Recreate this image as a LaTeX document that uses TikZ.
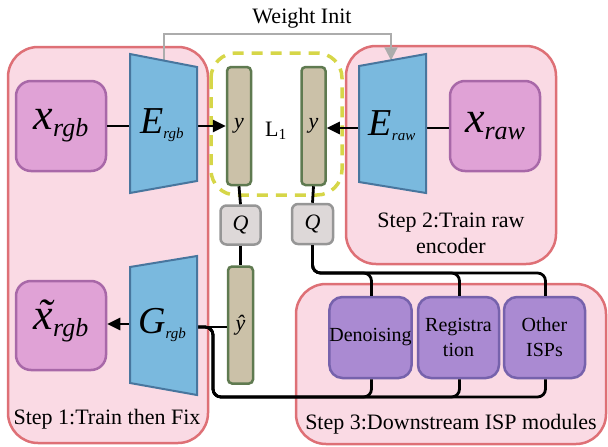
\documentclass[tikz,border=0pt]{standalone}
\usepackage{fontspec}
\setmainfont{Liberation Serif}
\usetikzlibrary{arrows.meta}
\definecolor{stepfill}{RGB}{250,218,228}
\definecolor{stepdraw}{RGB}{222,112,118}
\definecolor{magfill}{RGB}{224,162,214}
\definecolor{magdraw}{RGB}{168,104,168}
\definecolor{bluefill}{RGB}{122,185,222}
\definecolor{bluedraw}{RGB}{72,118,158}
\definecolor{barfill}{RGB}{203,193,168}
\definecolor{bardraw}{RGB}{95,122,80}
\definecolor{qfill}{RGB}{221,216,216}
\definecolor{qdraw}{RGB}{150,150,150}
\definecolor{purfill}{RGB}{170,138,210}
\definecolor{purdraw}{RGB}{118,98,172}
\definecolor{dashy}{RGB}{214,214,72}
\definecolor{grayline}{RGB}{172,172,172}
\newcommand\bigx[1]{{\fontsize{44}{44}\selectfont\itshape x}{\fontsize{26}{26}\selectfont\itshape\raisebox{-7pt}{#1}}}
\newcommand\bigxt[1]{{\fontsize{44}{44}\selectfont\itshape\ooalign{x\cr\hidewidth\kern3pt\char"02DC\hidewidth\cr}}{\fontsize{26}{26}\selectfont\itshape\raisebox{-7pt}{#1}}}
\newcommand\bigE[2]{{\fontsize{38}{38}\selectfont\itshape #1}{\fontsize{15}{15}\selectfont\itshape\raisebox{-5pt}{#2}}}
\begin{document}
\begin{tikzpicture}[x=1pt,y=-1pt,
  stepbox/.style={draw=stepdraw,fill=stepfill,line width=2.5pt,rounded corners=30pt,inner sep=0pt},
  imgbox/.style={draw=magdraw,fill=magfill,line width=2.5pt,rounded corners=15pt,minimum width=90pt,minimum height=90pt,inner sep=0pt},
  trap/.style={draw=bluedraw,fill=bluefill,line width=2pt,line join=miter},
  bar/.style={draw=bardraw,fill=barfill,line width=2.5pt,rounded corners=4pt,minimum width=24pt,minimum height=118pt,inner sep=0pt},
  qbox/.style={draw=qdraw,fill=qfill,line width=2.5pt,rounded corners=6pt,minimum width=40pt,minimum height=39pt,inner sep=0pt,font=\fontsize{22}{22}\selectfont\itshape},
  ispbox/.style={draw=purdraw,fill=purfill,line width=2.5pt,rounded corners=13pt,minimum width=81pt,minimum height=81pt,inner sep=0pt,align=center,font=\fontsize{20}{25}\selectfont},
  conn/.style={line width=2.8pt,black},
  tip/.style={-{Triangle[length=13pt,width=12pt]}},
  lbl/.style={font=\fontsize{22}{26}\selectfont,align=center,inner sep=0pt}
]
\useasboundingbox (0,0) rectangle (608,447);
% step containers
\node[stepbox,minimum width=200pt,minimum height=396pt] (s1) at (108,245) {};
\node[stepbox,minimum width=210pt,minimum height=218pt] (s2) at (451,155) {};
\node[stepbox,minimum width=310pt,minimum height=160pt] (s3) at (451,364) {};
\node[lbl] (s1l) at (107,419) {Step 1:Train then Fix};
\node[lbl] (s2l) at (451,233) {Step 2:Train raw\\encoder};
\node[lbl] (s3l) at (451,424) {Step 3:Downstream ISP modules};
% weight init
\node[lbl] (wi) at (302,18) {Weight Init};
\coordinate (Ergbtop) at (164,60.6);
\coordinate (Erawtop) at (391,60.3);
\draw[grayline,line width=2pt,-{Triangle[length=13pt,width=13pt]}] (Ergbtop) -- (164,34) -| (Erawtop);
% dashed L1 region
\draw[dashy,line width=3.5pt,dash pattern=on 11pt off 8pt,rounded corners=25pt] (211,53) rectangle (342,195);
% image boxes
\node[imgbox] (xrgb) at (61,126) {\bigx{rgb}};
\node[imgbox] (xraw) at (495,126) {\bigx{raw}};
\node[imgbox,minimum height=89pt] (xt) at (61,325.5) {\bigxt{rgb}};
% bars
\node[bar] (y1) at (239,126) {\fontsize{22}{22}\selectfont\itshape y};
\node[bar] (y2) at (313.5,126) {\fontsize{22}{22}\selectfont\itshape y};
\node[bar,minimum width=25pt,minimum height=117pt] (yh) at (240.5,325) {\fontsize{22}{22}\selectfont\itshape \^{y}};
\node[lbl] (l1) at (276,131) {L\textsubscript{1}};
% Q boxes
\node[qbox] (q1) at (240.5,225) {Q};
\node[qbox,minimum width=41pt,minimum height=40pt] (q2) at (312.5,224) {Q};
% ISP boxes
\node[ispbox] (den) at (370.5,337.5) {Denoising};
\node[ispbox] (reg) at (458.5,337.5) {Registra\\tion};
\node[ispbox] (oth) at (544.5,337.5) {Other\\ISPs};
% connectors
\coordinate (Ergbin) at (130,126);
\coordinate (Ergbout) at (197,126);
\coordinate (Erawout) at (359,128);
\coordinate (Erawin) at (426,128);
\coordinate (Gout) at (197,327);
\coordinate (Gin) at (130,324);
\draw[conn] (xrgb.east) -- (Ergbin);
\draw[conn,tip] (Ergbout) -- (y1.west);
\draw[conn,tip] (Erawout) -- (y2.east |- Erawout);
\draw[conn] (Erawin) -- (xraw.west |- Erawin);
\draw[conn] (y1.south) -- (q1.north);
\draw[conn] (q1.south) -- (yh.north);
\draw[conn] (y2.south) -- (q2.north);
\draw[conn] (Gout) -- (yh.west |- Gout);
\draw[conn,tip] (Gin) -- (xt.east |- Gin);
\foreach \b in {den,reg,oth}{
  \draw[conn,rounded corners=8pt] (q2.south) -- (312.5,273) -| ([xshift=1pt]\b.north);
  \draw[conn,rounded corners=8pt] (Gout) -- (213,327) -- (213,397) -| ([xshift=1pt]\b.south);
}
% trapezoids (encoders / decoder)
\draw[trap] (130,54) -- (197,67) -- (197,181) -- (130,193) -- cycle;
\node (Ergb) at (162,125) {\bigE{E}{rgb}};
\draw[trap] (359,66) -- (426,54) -- (426,193) -- (359,182) -- cycle;
\node (Eraw) at (392,126) {\bigE{E}{raw}};
\draw[trap] (130,267) -- (197,256) -- (197,395) -- (130,383) -- cycle;
\node (Grgb) at (162,325) {\bigE{G}{rgb}};
\end{tikzpicture}
\end{document}
